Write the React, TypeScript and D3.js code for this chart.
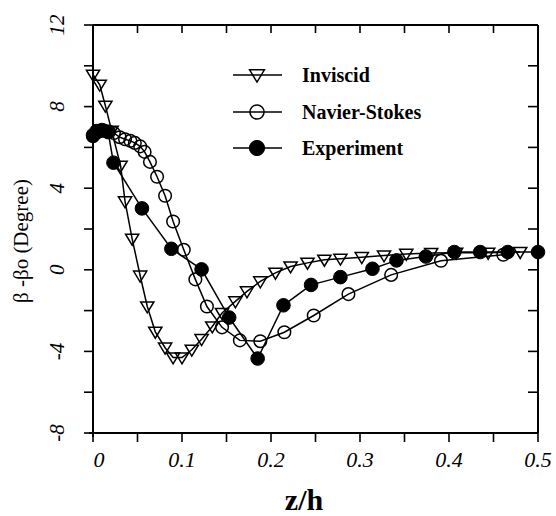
import React from "react";
import * as d3 from "d3";

const xTicksLabeled = [0, 0.1, 0.2, 0.3, 0.4, 0.5];
const xTickLabels = ["0", "0.1", "0.2", "0.3", "0.4", "0.5"];
const xMinorTicks = [0, 0.05, 0.1, 0.15, 0.2, 0.25, 0.3, 0.35, 0.4, 0.45, 0.5];
const yTicksLabeled = [-8, -4, 0, 4, 8, 12];
const yTickLabels = ["-8", "-4", "0", "4", "8", "12"];
const yMinorTicks = [-8, -6, -4, -2, 0, 2, 4, 6, 8, 10, 12];

const inviscidZ = [0, 0.0076, 0.0139, 0.021, 0.031, 0.036, 0.044, 0.053, 0.061, 0.07, 0.081, 0.09, 0.1, 0.111, 0.122, 0.134, 0.145, 0.16, 0.173, 0.188, 0.205, 0.222, 0.241, 0.26, 0.278, 0.302, 0.327, 0.352, 0.38, 0.408, 0.444, 0.48];
const inviscidV = [9.56, 9.07, 8.04, 6.81, 5.1, 3.35, 1.52, -0.29, -1.8, -3.04, -3.82, -4.3, -4.3, -3.92, -3.4, -2.78, -2.12, -1.55, -1.06, -0.57, -0.15, 0.16, 0.34, 0.49, 0.54, 0.62, 0.7, 0.78, 0.82, 0.83, 0.83, 0.87];

const nsZ = [0, 0.0035, 0.008, 0.0125, 0.018, 0.0235, 0.03, 0.036, 0.042, 0.047, 0.053, 0.058, 0.064, 0.072, 0.081, 0.09, 0.102, 0.115, 0.128, 0.145, 0.165, 0.188, 0.215, 0.248, 0.287, 0.335, 0.391, 0.461];
const nsV = [6.55, 6.7, 6.8, 6.82, 6.78, 6.7, 6.5, 6.4, 6.32, 6.22, 6.05, 5.78, 5.29, 4.56, 3.63, 2.37, 0.98, -0.47, -1.8, -2.82, -3.46, -3.5, -3.06, -2.24, -1.19, -0.25, 0.44, 0.74];

const expZ = [0, 0.004, 0.01, 0.017, 0.023, 0.055, 0.088, 0.122, 0.153, 0.185, 0.214, 0.245, 0.278, 0.314, 0.341, 0.374, 0.406, 0.435, 0.466, 0.5];
const expV = [6.6, 6.8, 6.85, 6.75, 5.25, 3.01, 1.03, 0.02, -2.34, -4.35, -1.74, -0.74, -0.36, 0.05, 0.46, 0.65, 0.87, 0.87, 0.87, 0.87];

const seriesNames = ["Inviscid", "Navier-Stokes", "Experiment"];

const W = 556;
const H = 516;
const left = 93;
const right = 538;
const top = 25;
const bottom = 433;

const x = d3.scaleLinear().domain([0, 0.5]).range([left, right]);
const y = d3.scaleLinear().domain([-8, 12]).range([bottom, top]);

const lineGen = d3
  .line<[number, number]>()
  .x((d) => x(d[0]))
  .y((d) => y(d[1]));

function zip(a: number[], b: number[]): [number, number][] {
  return a.map((v, i) => [v, b[i]]);
}

const FONT = "Liberation Serif, Times New Roman, DejaVu Serif, serif";

function Marker({ kind, cx, cy, big }: { kind: number; cx: number; cy: number; big?: boolean }) {
  const s = big ? 1.12 : 1;
  if (kind === 0) {
    const w = 6.6 * s;
    const h = 11 * s;
    const t = cy - h * 0.42;
    return (
      <path
        d={`M${cx - w},${t} L${cx + w},${t} L${cx},${t + h} Z`}
        fill="none"
        stroke="#000"
        strokeWidth={1.5}
      />
    );
  }
  if (kind === 1) {
    return <circle cx={cx} cy={cy} r={6.3 * s} fill="none" stroke="#000" strokeWidth={1.5} />;
  }
  return <circle cx={cx} cy={cy} r={6.8 * s} fill="#000" stroke="#000" strokeWidth={1} />;
}

export default function App() {
  const series = [zip(inviscidZ, inviscidV), zip(nsZ, nsV), zip(expZ, expV)];
  const legendY = [75, 112, 148];
  return (
    <svg
      width={W}
      height={H}
      style={{ position: "absolute", left: 0, top: 0, background: "#fff", fontFamily: FONT }}
    >
      <rect x={0} y={0} width={W} height={H} fill="#fff" />
      {/* frame */}
      <line x1={left - 4} x2={right} y1={bottom} y2={bottom} stroke="#000" strokeWidth={2} />
      <line x1={left} x2={right} y1={top} y2={top} stroke="#000" strokeWidth={2} />
      <line x1={left} x2={left} y1={top} y2={bottom + 4} stroke="#000" strokeWidth={2} />
      <line x1={right} x2={right} y1={top} y2={bottom} stroke="#000" strokeWidth={2} />
      {/* ticks */}
      {xMinorTicks.map((t, i) => (
        <g key={"xt" + i}>
          <line x1={x(t)} x2={x(t)} y1={bottom} y2={bottom + 9} stroke="#000" strokeWidth={1.6} />
          <line x1={x(t)} x2={x(t)} y1={top} y2={top + 8} stroke="#000" strokeWidth={1.6} />
        </g>
      ))}
      {yMinorTicks.map((t, i) => (
        <g key={"yt" + i}>
          <line x1={left - 9} x2={left} y1={y(t)} y2={y(t)} stroke="#000" strokeWidth={1.6} />
          <line x1={right - 10} x2={right} y1={y(t)} y2={y(t)} stroke="#000" strokeWidth={1.6} />
        </g>
      ))}
      {xTicksLabeled.map((t, i) => (
        <text
          key={"xl" + i}
          x={x(t) + (i === 0 ? 6 : 0)}
          y={467}
          textAnchor="middle"
          fontSize={22}
          fontStyle="italic"
        >
          {xTickLabels[i]}
        </text>
      ))}
      {yTicksLabeled.map((t, i) => (
        <text
          key={"yl" + i}
          transform={`translate(57,${y(t)}) rotate(-90)`}
          textAnchor="middle"
          dominantBaseline="central"
          fontSize={21}
          fontStyle="italic"
        >
          {yTickLabels[i]}
        </text>
      ))}
      <text
        transform="translate(21,241) rotate(-90)"
        textAnchor="middle"
        dominantBaseline="central"
        fontSize={21}
      >
        β -βo (Degree)
      </text>
      <text x={304} y={510} textAnchor="middle" fontSize={30} fontWeight={700}>
        z/h
      </text>
      {/* series */}
      {series.map((pts, k) => (
        <g key={"s" + k}>
          <path d={lineGen(pts) || ""} fill="none" stroke="#000" strokeWidth={1.5} />
          {pts.map((p, i) => (
            <Marker key={i} kind={k} cx={x(p[0])} cy={y(p[1])} />
          ))}
        </g>
      ))}
      {/* legend */}
      {seriesNames.map((name, k) => (
        <g key={"lg" + k}>
          <line x1={233} x2={282} y1={legendY[k]} y2={legendY[k]} stroke="#000" strokeWidth={1.5} />
          <Marker kind={k} cx={257} cy={legendY[k]} big />
          <text x={302} y={legendY[k] + 7} fontSize={20} fontWeight={700}>
            {name}
          </text>
        </g>
      ))}
    </svg>
  );
}
